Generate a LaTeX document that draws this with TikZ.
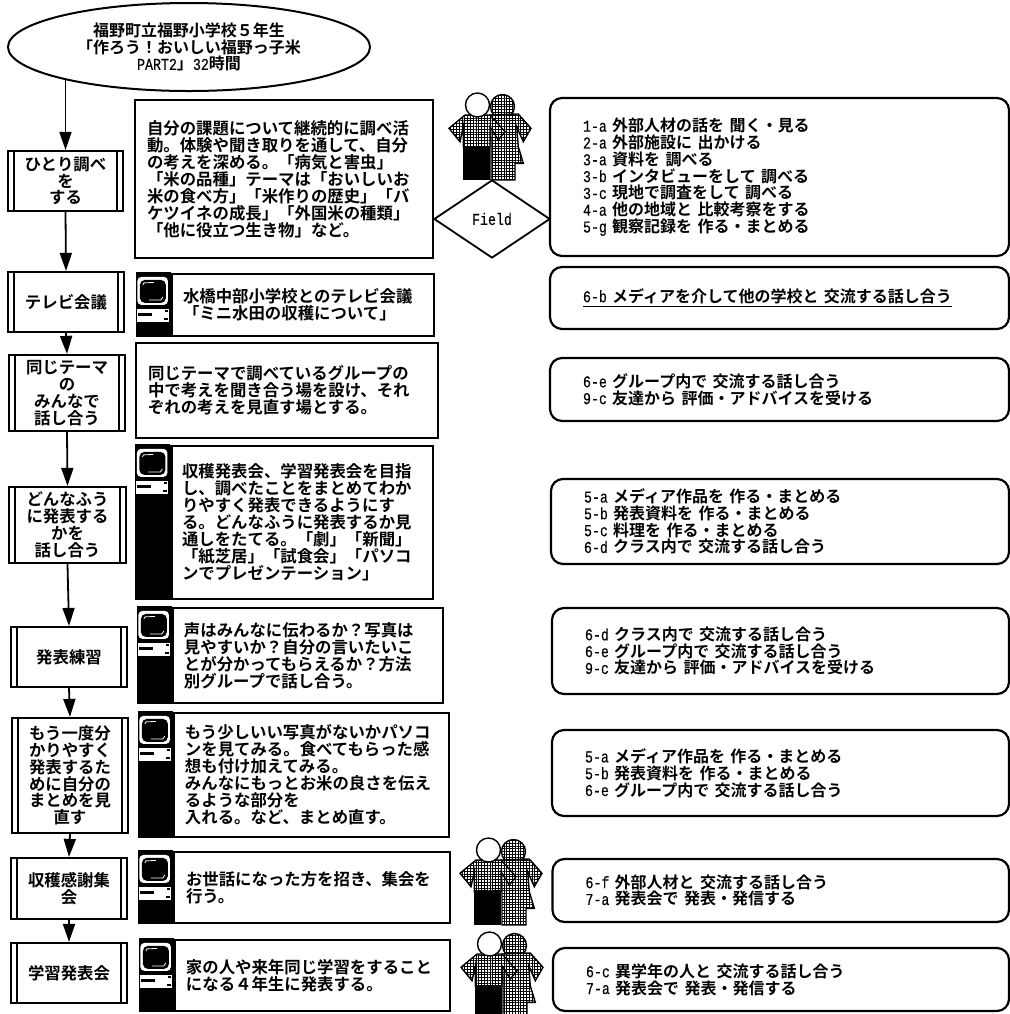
\documentclass[tikz,border=0pt]{standalone}
\usepackage{fontspec}
\setmainfont[UprightFont={* Bold}]{Noto Sans CJK JP}
\newfontfamily\hwfont[FakeStretch=0.8,FakeBold=0.3]{Liberation Mono}
\usepackage{tikz}
\usetikzlibrary{
    positioning,       % Relative positioning
    shapes.geometric,  % Ellipse, diamond
    arrows.meta,       % Arrow tips
    patterns.meta      % Shirt hatching
}

% half-width latin
\newcommand{\hw}[1]{{\hwfont\fontsize{8.3}{8.4}\selectfont #1}}

\tikzset{
    every node/.style={inner sep=0pt, font=\fontsize{8.2}{8.5}\selectfont},
    flow/.style={line width=0.9pt, -{Triangle[length=9pt,width=6pt]}},
    titleoval/.style={draw, line width=1pt, ellipse, align=center, font=\fontsize{8}{8.4}\selectfont},
    stepbox/.style={draw, line width=1.1pt, align=center, font=\fontsize{8.2}{8.4}\selectfont,
        path picture={
            \draw[line width=0.7pt] ([xshift=3pt]path picture bounding box.north west) -- ([xshift=3pt]path picture bounding box.south west);
            \draw[line width=0.7pt] ([xshift=-3pt]path picture bounding box.north east) -- ([xshift=-3pt]path picture bounding box.south east);
        }},
    pad/.style={execute at begin node={\leftskip=#1}},
    activity/.style={draw, line width=1.1pt, align=left, fill=white},
    action/.style={draw, line width=1.1pt, align=left, rounded corners=6pt, text width=229.5pt,
        pad=16.5pt, font=\fontsize{8}{8.4}\selectfont},
    shirt/.style={draw, line width=0.7pt, fill=white, postaction={pattern={Hatch[angle=0,distance=1.4pt,line width=0.4pt]}}}
}

% computer strip on the left of a box
\newcommand{\pcstrip}[1]{
    \fill (#1.north west) ++(-35,-1) rectangle (#1.south west);
    \begin{scope}[shift={(#1.north west)}]
        \fill[white, rounded corners=2pt] (-33.5,4) rectangle (-3,32);
        \fill[black, rounded corners=2.5pt] (-31,7) rectangle (-5,30);
        \draw[white, line width=0.4pt] (-28,12) -- (-27,10) -- (-17,9.5);
        \draw[white, line width=0.4pt] (-22,27) -- (-10,27) -- (-8,24);
        \fill[white] (-34,36) rectangle (-2,49);
        \fill (-33,40.5) rectangle (-19,43.5);
        \fill (-6,37) rectangle (-3,39);
        \fill (-7,45) rectangle (-3,47);
    \end{scope}
}

% two children
\newcommand{\people}[2]{
    \begin{scope}[shift={(#1,#2)}]
        \filldraw[shirt] (53.5,14.5) circle (12);
        \draw[shirt] (41,23) -- (69.3,22) -- (82,36.3) -- (74.3,49.7) -- (67.7,34.7) -- (69.3,54.7)
            -- (74.3,71.3) -- (66,71.3) -- (66,88) -- (42,88) -- (42,50) -- cycle;
        \draw[shirt] (16,23) -- (41,23) -- (56,39.7) -- (49.3,48) -- (41,34.7) -- (41,54.7)
            -- (14.3,54.7) -- (14.3,34.7) -- (11,49.7) -- (0,36.3) -- cycle;
        \fill (14.3,54.7) rectangle (41,88);
        \filldraw[fill=white, line width=0.7pt] (28.5,13) circle (12);
    \end{scope}
}

\begin{document}
\begin{tikzpicture}[x=0.5pt, y=-0.5pt]
    \useasboundingbox (0,0) rectangle (1010,1014);

    % Title
    \node[titleoval, minimum width=181pt, minimum height=44pt] (title) at (189,47)
        {福野町立福野小学校５年生\\「作ろう！おいしい福野っ子米\\\hw{PART2}」\hw{32}時間};

    % Steps
    \node[stepbox, minimum width=57.5pt, minimum height=30pt] (step1) at (65.5,181) {ひとり調べ\\を\\する};
    \node[stepbox, minimum width=58pt, minimum height=30pt] (step2) at (66,302) {テレビ会議};
    \node[stepbox, minimum width=58pt, minimum height=38pt] (step3) at (67,393) {同じテーマ\\の\\みんなで\\話し合う};
    \node[stepbox, minimum width=58.5pt, minimum height=38pt] (step4) at (67.5,525) {どんなふう\\に発表する\\かを\\話し合う};
    \node[stepbox, minimum width=58pt, minimum height=30pt] (step5) at (69,657) {発表練習};
    \node[stepbox, minimum width=58pt, minimum height=57.5pt] (step6) at (70,775.5) {もう一度分\\かりやすく\\発表するた\\めに自分の\\まとめを見\\直す};
    \node[stepbox, minimum width=58pt, minimum height=30.5pt] (step7) at (69,888.5) {収穫感謝集\\会};
    \node[stepbox, minimum width=58pt, minimum height=30pt] (step8) at (69,973) {学習発表会};

    % Flow
    \draw[flow] (step1.north |- title.195) -- (step1.north);
    \draw[flow] (step1.south) -- (step2.north);
    \draw[flow] (step2.south) -- (step3.north);
    \draw[flow] (step3.south) -- (step4.north);
    \draw[flow] (step4.south) -- (step5.north);
    \draw[flow] (step5.south) -- (step6.north);
    \draw[flow] (step6.south) -- (step7.north);
    \draw[flow] (step7.south) -- (step8.north);

    % Activities
    \node[activity, text width=149pt, minimum height=79pt, pad=6pt] (work1) at (284,179)
        {自分の課題について継続的に調べ活\\動。体験や聞き取りを通して、自分\\の考えを深める。「病気と害虫」\\「米の品種」テーマは「おいしいお\\米の食べ方」「米作りの歴史」「バ\\ケツイネの成長」「外国米の種類」\\「他に役立つ生き物」など。};
    \node[activity, text width=131pt, minimum height=31pt, pad=5.5pt] (work2) at (303,305)
        {水橋中部小学校とのテレビ会議\\「ミニ水田の収穫について」};
    \node[activity, text width=151pt, minimum height=47.5pt, pad=6pt] (work3) at (287,390.5)
        {同じテーマで調べているグループの\\中で考えを聞き合う場を設け、それ\\ぞれの考えを見直す場とする。};
    \node[activity, text width=130.75pt, minimum height=76.5pt, pad=5.25pt] (work4) at (302.25,522.5)
        {収穫発表会、学習発表会を目指\\し、調べたことをまとめてわか\\りやすく発表できるようにす\\る。どんなふうに発表するか見\\通しをたてる。「劇」「新聞」\\「紙芝居」「試食会」「パソコ\\ンでプレゼンテーション」};
    \node[activity, text width=135pt, minimum height=47.5pt, pad=5.5pt] (work5) at (308,655.5)
        {声はみんなに伝わるか？写真は\\見やすいか？自分の言いたいこ\\とが分かってもらえるか？方法\\別グループで話し合う。};
    \node[activity, text width=137.5pt, minimum height=62pt, pad=5.5pt] (work6) at (311.5,775)
        {もう少しいい写真がないかパソコ\\ンを見てみる。食べてもらった感\\想も付け加えてみる。\\みんなにもっとお米の良さを伝え\\るような部分を\\入れる。など、まとめ直す。};
    \node[activity, text width=138pt, minimum height=35.5pt, pad=6pt] (work7) at (312,887.5)
        {お世話になった方を招き、集会を\\行う。};
    \node[activity, text width=137.5pt, minimum height=35.5pt, pad=5.5pt] (work8) at (312.5,975.5)
        {家の人や来年同じ学習をすること\\になる４年生に発表する。};

    \pcstrip{work2}
    \pcstrip{work4}
    \pcstrip{work5}
    \pcstrip{work6}
    \pcstrip{work7}
    \pcstrip{work8}

    % Children
    \people{449}{92}
    \people{460}{837}
    \people{461}{931}

    % Field
    \node[draw, diamond, line width=0.9pt, minimum width=58pt, minimum height=39pt] (field) at (492,219) {\hw{Field}};

    % Actions
    \node[action, minimum height=79pt, fill=white] (act1) at (779.5,177)
        {\hw{1-a }外部人材の話を\hw{ }聞く・見る\\\hw{2-a }外部施設に\hw{ }出かける\\\hw{3-a }資料を\hw{ }調べる\\\hw{3-b }インタビューをして\hw{ }調べる\\\hw{3-c }現地で調査をして\hw{ }調べる\\\hw{4-a }他の地域と\hw{ }比較考察をする\\\hw{5-g }観察記録を\hw{ }作る・まとめる};
    \node[action, minimum height=31pt] (act2) at (779.5,298)
        {\underline{\hw{6-b }メディアを介して他の学校と\hw{ }交流する話し合う}};
    \node[action, minimum height=31.5pt] (act3) at (779.5,389.5)
        {\hw{6-e }グループ内で\hw{ }交流する話し合う\\\hw{9-c }友達から\hw{ }評価・アドバイスを受ける};
    \node[action, minimum height=42.5pt, text width=229pt] (act4) at (780,521.5)
        {\hw{5-a }メディア作品を\hw{ }作る・まとめる\\\hw{5-b }発表資料を\hw{ }作る・まとめる\\\hw{5-c }料理を\hw{ }作る・まとめる\\\hw{6-d }クラス内で\hw{ }交流する話し合う};
    \node[action, minimum height=43pt, text width=228.5pt] (act5) at (780.5,651)
        {\hw{6-d }クラス内で\hw{ }交流する話し合う\\\hw{6-e }グループ内で\hw{ }交流する話し合う\\\hw{9-c }友達から\hw{ }評価・アドバイスを受ける};
    \node[action, minimum height=43pt, text width=228.5pt] (act6) at (780.5,773)
        {\hw{5-a }メディア作品を\hw{ }作る・まとめる\\\hw{5-b }発表資料を\hw{ }作る・まとめる\\\hw{6-e }グループ内で\hw{ }交流する話し合う};
    \node[action, minimum height=31.5pt, text width=228.25pt] (act7) at (780.75,890.5)
        {\hw{6-f }外部人材と\hw{ }交流する話し合う\\\hw{7-a }発表会で\hw{ }発表・発信する};
    \node[action, minimum height=31.5pt, text width=228pt] (act8) at (781,979.5)
        {\hw{6-c }異学年の人と\hw{ }交流する話し合う\\\hw{7-a }発表会で\hw{ }発表・発信する};
\end{tikzpicture}
\end{document}
